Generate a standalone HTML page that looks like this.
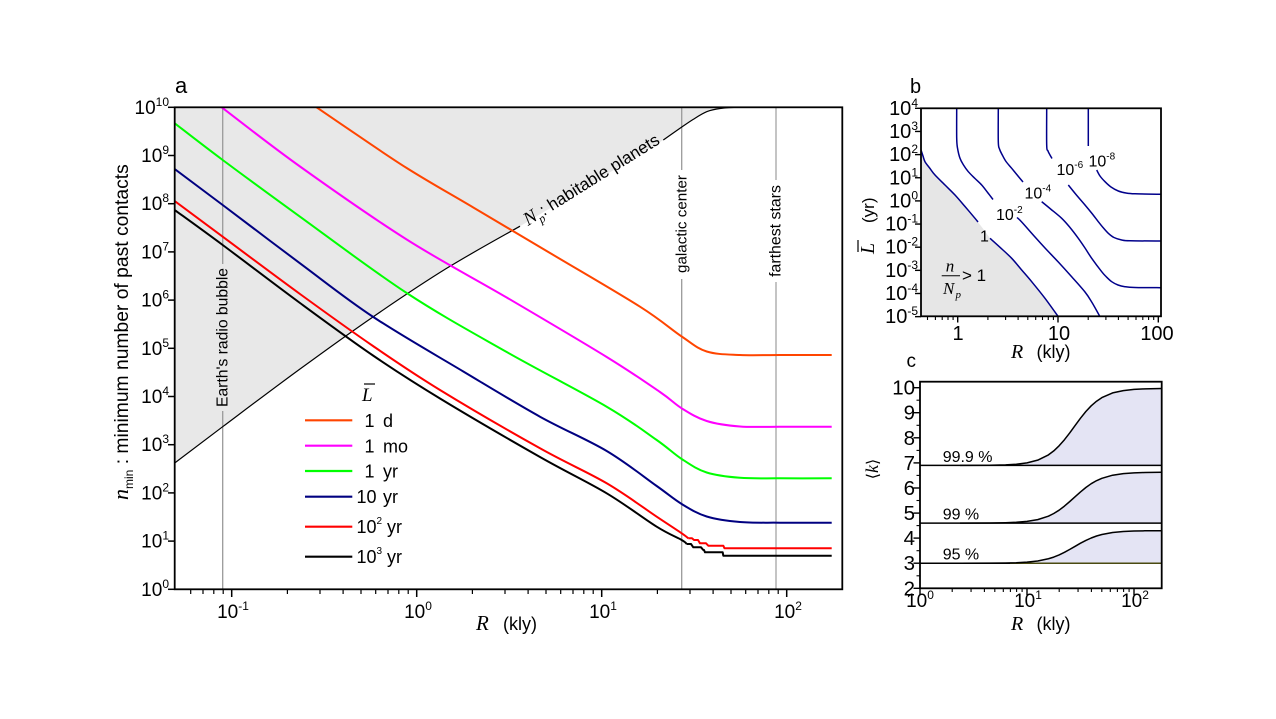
<!DOCTYPE html>
<html>
<head>
<meta charset="utf-8">
<style>
html,body{margin:0;padding:0;background:#fff;}
svg{display:block;}
text{fill:#000;}
.serif{font-family:"Liberation Serif","DejaVu Serif",serif;font-style:italic;}
</style>
</head>
<body>
<svg xmlns="http://www.w3.org/2000/svg" width="1276" height="719" viewBox="0 0 1276 719" font-family="Liberation Sans, Arial, sans-serif">
<defs>
<clipPath id="ca"><rect x="174.7" y="107.3" width="667.6" height="482"/></clipPath>
<clipPath id="cb"><rect x="921" y="108.3" width="240" height="208"/></clipPath>
<clipPath id="cc"><rect x="920" y="381.7" width="241.7" height="206.6"/></clipPath>
</defs>
<rect width="1276" height="719" fill="#fff"/>

<!-- ================= PANEL A ================= -->
<g clip-path="url(#ca)">
<path d="M174.7,107.3 L174.7,463 L222.7,426.7 L260,398.5 L300,369 L340,340.5 L373.3,316.7 L406.7,293.5 L446.7,268.3 L480,248.7 L510,231.7 L520,226.2 L560,202.2 L600,178.2 L630,160.2 L663.3,140 L680,128.3 L693,119.5 L706.7,111.7 L720,108.5 L740,107.3 Z" fill="#e8e8e8"/>
<g stroke="#9a9a9a" stroke-width="1.3">
<line x1="222.7" y1="107.3" x2="222.7" y2="264"/>
<line x1="222.7" y1="411" x2="222.7" y2="589.3"/>
<line x1="681.7" y1="107.3" x2="681.7" y2="170"/>
<line x1="681.7" y1="279" x2="681.7" y2="589.3"/>
</g>
<g stroke="#b0b0b0" stroke-width="1.5">
<line x1="776" y1="107.3" x2="776" y2="180"/>
<line x1="776" y1="282" x2="776" y2="589.3"/>
</g>
<g fill="none" stroke="#000" stroke-width="1.2">
<polyline class="sm" points="174.7,463 222.7,426.7 300,369 373.3,316.7 446.7,268.3 520,226.2"/>
<polyline class="sm" points="663.3,140 680,128.3 693,119.5 706.7,111.7 720,108.5 740,107.3 790,107.3 842,107.3"/>
</g>
<g fill="none" stroke-width="2" stroke-linejoin="round">
<polyline class="sm" stroke="#ff4500" points="300,96 340,123.3 406.7,168 473.3,207.5 550,253 640,306.7 681.7,336.5 706.7,351.5 740,355 780,355 831.7,355"/>
<polyline class="sm" stroke="#ff00ff" points="210,98 221.7,107.3 300,166.5 406.7,239.5 506.7,297.5 606.7,357 660,392 681.7,408.3 706.7,421 740,426.5 780,426.7 831.7,426.7"/>
<polyline class="sm" stroke="#00ff00" points="174.7,123.3 222.7,160 300,216.7 406.7,293 506.7,352 606.7,406.7 656.7,440 681.7,459 706.7,472.5 740,477.8 780,478.3 831.7,478.3"/>
<polyline class="sm" stroke="#000080" points="174.7,169 222.7,205 300,263.3 373.3,317 463.3,371.5 540,416.7 606.7,451 656.7,486 681.7,504 706.7,516.5 740,522 780,522.7 831.7,522.7"/>
<polyline class="sm" stroke="#ff0000" points="174.7,201 222.7,236.7 300,294 373,346 440,390 540,448.3 606.7,483.3 656.7,516.7 681.7,533.3 688.3,538.3"/>
<polyline stroke="#ff0000" points="688.3,538.3 692,538.3 694,540 698,540 700,543.3 706,543.3 708.3,545.7 723.3,545.7 724.5,548.3 831.7,548.3"/>
<polyline class="sm" stroke="#000000" points="174.7,210 222.7,245 300,303 373,355.5 440,398.5 540,457 606.7,493.3 656.7,526.7 681.7,540 686.7,544"/>
<polyline stroke="#000000" points="686.7,544 691,544 693.3,547.3 701,547.3 703.3,550 704,550 705,552.3 722.7,552.3 723.3,555.7 831.7,555.7"/>
</g>
</g>
<rect x="174.7" y="107.3" width="667.6" height="482" fill="none" stroke="#000" stroke-width="1.8"/>
<g stroke="#000" stroke-width="1.5">
<line x1="168" y1="107.3" x2="174.7" y2="107.3"/>
<line x1="168" y1="155.5" x2="174.7" y2="155.5"/>
<line x1="168" y1="203.7" x2="174.7" y2="203.7"/>
<line x1="168" y1="251.9" x2="174.7" y2="251.9"/>
<line x1="168" y1="300.1" x2="174.7" y2="300.1"/>
<line x1="168" y1="348.3" x2="174.7" y2="348.3"/>
<line x1="168" y1="396.5" x2="174.7" y2="396.5"/>
<line x1="168" y1="444.7" x2="174.7" y2="444.7"/>
<line x1="168" y1="492.9" x2="174.7" y2="492.9"/>
<line x1="168" y1="541.1" x2="174.7" y2="541.1"/>
<line x1="168" y1="589.3" x2="174.7" y2="589.3"/>
<line x1="231.7" y1="589.3" x2="231.7" y2="597"/>
<line x1="416.7" y1="589.3" x2="416.7" y2="597"/>
<line x1="601.7" y1="589.3" x2="601.7" y2="597"/>
<line x1="786.7" y1="589.3" x2="786.7" y2="597"/>
</g>
<g stroke="#000" stroke-width="1.2">
<line x1="190.7" y1="589.3" x2="190.7" y2="594"/>
<line x1="203" y1="589.3" x2="203" y2="594"/>
<line x1="213.8" y1="589.3" x2="213.8" y2="594"/>
<line x1="223.2" y1="589.3" x2="223.2" y2="594"/>
<line x1="287.4" y1="589.3" x2="287.4" y2="594"/>
<line x1="320" y1="589.3" x2="320" y2="594"/>
<line x1="343.1" y1="589.3" x2="343.1" y2="594"/>
<line x1="361" y1="589.3" x2="361" y2="594"/>
<line x1="375.7" y1="589.3" x2="375.7" y2="594"/>
<line x1="388" y1="589.3" x2="388" y2="594"/>
<line x1="398.8" y1="589.3" x2="398.8" y2="594"/>
<line x1="408.2" y1="589.3" x2="408.2" y2="594"/>
<line x1="472.4" y1="589.3" x2="472.4" y2="594"/>
<line x1="505" y1="589.3" x2="505" y2="594"/>
<line x1="528.1" y1="589.3" x2="528.1" y2="594"/>
<line x1="546" y1="589.3" x2="546" y2="594"/>
<line x1="560.7" y1="589.3" x2="560.7" y2="594"/>
<line x1="573" y1="589.3" x2="573" y2="594"/>
<line x1="583.8" y1="589.3" x2="583.8" y2="594"/>
<line x1="593.2" y1="589.3" x2="593.2" y2="594"/>
<line x1="657.4" y1="589.3" x2="657.4" y2="594"/>
<line x1="690" y1="589.3" x2="690" y2="594"/>
<line x1="713.1" y1="589.3" x2="713.1" y2="594"/>
<line x1="731" y1="589.3" x2="731" y2="594"/>
<line x1="745.7" y1="589.3" x2="745.7" y2="594"/>
<line x1="758" y1="589.3" x2="758" y2="594"/>
<line x1="768.8" y1="589.3" x2="768.8" y2="594"/>
<line x1="778.2" y1="589.3" x2="778.2" y2="594"/>
</g>
<g font-size="19" text-anchor="end">
<text x="169" y="113.8">10<tspan font-size="12" dy="-8">10</tspan></text>
<text x="169" y="162">10<tspan font-size="12" dy="-8">9</tspan></text>
<text x="169" y="210.2">10<tspan font-size="12" dy="-8">8</tspan></text>
<text x="169" y="258.4">10<tspan font-size="12" dy="-8">7</tspan></text>
<text x="169" y="306.6">10<tspan font-size="12" dy="-8">6</tspan></text>
<text x="169" y="354.8">10<tspan font-size="12" dy="-8">5</tspan></text>
<text x="169" y="403">10<tspan font-size="12" dy="-8">4</tspan></text>
<text x="169" y="451.2">10<tspan font-size="12" dy="-8">3</tspan></text>
<text x="169" y="499.4">10<tspan font-size="12" dy="-8">2</tspan></text>
<text x="169" y="547.6">10<tspan font-size="12" dy="-8">1</tspan></text>
<text x="169" y="595.8">10<tspan font-size="12" dy="-8">0</tspan></text>
</g>
<g font-size="19" text-anchor="middle">
<text x="233" y="618">10<tspan font-size="12" dy="-8">-1</tspan></text>
<text x="418" y="618">10<tspan font-size="12" dy="-8">0</tspan></text>
<text x="603" y="618">10<tspan font-size="12" dy="-8">1</tspan></text>
<text x="788" y="618">10<tspan font-size="12" dy="-8">2</tspan></text>
</g>
<text x="476" y="630" class="serif" font-size="21">R</text>
<text x="503" y="630" font-size="18">(kly)</text>
<text transform="translate(128,500) rotate(-90)" font-size="19.3"><tspan class="serif" font-size="22">n</tspan><tspan font-size="12" dy="5">min</tspan><tspan dy="-5"> : minimum number of past contacts</tspan></text>
<text x="175" y="93" font-size="22">a</text>
<text transform="translate(227.5,337.5) rotate(-90)" font-size="15.7" text-anchor="middle">Earth's radio bubble</text>
<text transform="translate(686.3,224) rotate(-90)" font-size="15.2" text-anchor="middle">galactic center</text>
<text transform="translate(780.5,231) rotate(-90)" font-size="15.9" text-anchor="middle">farthest stars</text>
<text transform="translate(528,226) rotate(-32)" font-size="17"><tspan class="serif" font-size="19">N</tspan><tspan font-size="12" dy="5" class="serif">p</tspan><tspan dy="-5">: habitable planets</tspan></text>
<!-- legend -->
<text x="362" y="401" class="serif" font-size="19">L</text>
<line x1="364" y1="384" x2="375" y2="384" stroke="#000" stroke-width="1.2"/>
<g stroke-width="2.2">
<line x1="305" y1="420.3" x2="352.3" y2="420.3" stroke="#ff4500"/>
<line x1="305" y1="445.7" x2="352.3" y2="445.7" stroke="#ff00ff"/>
<line x1="305" y1="471" x2="352.3" y2="471" stroke="#00ff00"/>
<line x1="305" y1="496.7" x2="352.3" y2="496.7" stroke="#000080"/>
<line x1="305" y1="526.7" x2="352.3" y2="526.7" stroke="#ff0000"/>
<line x1="305" y1="556.7" x2="352.3" y2="556.7" stroke="#000000"/>
</g>
<g font-size="18">
<text x="364.5" y="427">1</text><text x="383" y="427">d</text>
<text x="364.5" y="452.5">1</text><text x="383" y="452.5">mo</text>
<text x="364.5" y="477.5">1</text><text x="383" y="477.5">yr</text>
<text x="356.5" y="503">10</text><text x="383" y="503">yr</text>
<text x="356.5" y="533">10<tspan font-size="10" dy="-9">2</tspan></text><text x="387" y="533">yr</text>
<text x="356.5" y="563">10<tspan font-size="10" dy="-9">3</tspan></text><text x="387" y="563">yr</text>
</g>

<!-- ================= PANEL B ================= -->
<g clip-path="url(#cb)">
<path d="M921,151 L923,156 L925,161.7 L930,168.5 L935,175 L945,185 L955,195 L965,206.5 L975,218.3 L982.5,228 L990,238.3 L1000,247.3 L1011.7,258.3 L1021.7,270 L1031.7,281.7 L1045,298.3 L1058.3,316.7 L921,316.7 Z" fill="#e6e6e6"/>
<g fill="none" stroke="#00008b" stroke-width="1.5" stroke-linejoin="round">
<polyline class="sm" points="921,150 923,156 925,161.7 930,168.5 935,175 945,185 955,195 965,206.5 975,218.3 978,222"/>
<polyline class="sm" points="990,238.3 1000,247.3 1011.7,258.3 1021.7,270 1031.7,281.7 1045,298.3 1058.3,316.7"/>
<polyline class="sm" points="956.7,108 956.7,138 957.5,148 960,158.3 963.5,165 968.3,171.7 975,178.5 981.7,185 988,193 993,199.5"/>
<polyline class="sm" points="1017,217.5 1021.7,222 1035,237 1045,248 1058.3,262 1071,276 1085,292 1092,302.5 1100,316.7"/>
<polyline class="sm" points="998.3,108 998.3,141.7 999.5,149 1002.3,155 1006,161.5 1011.7,168.3 1018,176 1023,182"/>
<polyline class="sm" points="1041.7,201.7 1050,208.5 1061.7,218.3 1070,227.5 1078.3,238.3 1085,248 1091.7,258.3 1101.7,271.7 1106,276.5 1111.7,281.7 1118,285 1125,286.7 1135,287.5 1162,287.7"/>
<polyline class="sm" points="1046.7,108 1046.7,145 1048,151 1050,155 1052,158.5"/>
<polyline class="sm" points="1068.3,185 1076,194.5 1085,205 1092,213.5 1098.3,221.7 1103,227.5 1108.3,233.3 1114,237.5 1121.7,240 1130,240.8 1162,241"/>
<polyline points="1088.3,108 1088.3,146"/>
<polyline class="sm" points="1096.7,170 1100,176 1105,181.7 1111,187 1118.3,191 1126,193 1135,193.8 1162,194.3"/>
</g>
</g>
<rect x="921" y="108.3" width="240" height="208" fill="none" stroke="#000" stroke-width="1.8"/>
<g font-size="16">
<text x="980" y="241.5">1</text>
<text x="996" y="220">10<tspan font-size="10" dy="-7">-2</tspan></text>
<text x="1024.5" y="198.5">10<tspan font-size="10" dy="-7">-4</tspan></text>
<text x="1056.5" y="175">10<tspan font-size="10" dy="-7">-6</tspan></text>
<text x="1088.5" y="166.5">10<tspan font-size="10" dy="-7">-8</tspan></text>
</g>
<text x="950" y="271.5" class="serif" font-size="17" text-anchor="middle">n</text>
<line x1="941.7" y1="275.7" x2="960" y2="275.7" stroke="#000" stroke-width="1"/>
<text x="943" y="294" class="serif" font-size="17">N</text>
<text x="955.5" y="298" class="serif" font-size="11">p</text>
<text x="962" y="281" font-size="17">&gt; 1</text>
<g stroke="#000" stroke-width="1.4">
<line x1="915" y1="108.3" x2="921" y2="108.3"/>
<line x1="915" y1="131.45" x2="921" y2="131.45"/>
<line x1="915" y1="154.6" x2="921" y2="154.6"/>
<line x1="915" y1="177.75" x2="921" y2="177.75"/>
<line x1="915" y1="200.9" x2="921" y2="200.9"/>
<line x1="915" y1="224.05" x2="921" y2="224.05"/>
<line x1="915" y1="247.2" x2="921" y2="247.2"/>
<line x1="915" y1="270.35" x2="921" y2="270.35"/>
<line x1="915" y1="293.5" x2="921" y2="293.5"/>
<line x1="915" y1="316.65" x2="921" y2="316.65"/>
<line x1="957.7" y1="316.3" x2="957.7" y2="322.5"/>
<line x1="1058" y1="316.3" x2="1058" y2="322.5"/>
<line x1="1158.3" y1="316.3" x2="1158.3" y2="322.5"/>
</g>
<g stroke="#000" stroke-width="1.1">
<line x1="927.5" y1="316.3" x2="927.5" y2="320"/>
<line x1="935.4" y1="316.3" x2="935.4" y2="320"/>
<line x1="942.2" y1="316.3" x2="942.2" y2="320"/>
<line x1="948" y1="316.3" x2="948" y2="320"/>
<line x1="953.1" y1="316.3" x2="953.1" y2="320"/>
<line x1="987.9" y1="316.3" x2="987.9" y2="320"/>
<line x1="1005.6" y1="316.3" x2="1005.6" y2="320"/>
<line x1="1018.1" y1="316.3" x2="1018.1" y2="320"/>
<line x1="1027.8" y1="316.3" x2="1027.8" y2="320"/>
<line x1="1035.7" y1="316.3" x2="1035.7" y2="320"/>
<line x1="1042.5" y1="316.3" x2="1042.5" y2="320"/>
<line x1="1048.3" y1="316.3" x2="1048.3" y2="320"/>
<line x1="1053.4" y1="316.3" x2="1053.4" y2="320"/>
<line x1="1088.2" y1="316.3" x2="1088.2" y2="320"/>
<line x1="1105.9" y1="316.3" x2="1105.9" y2="320"/>
<line x1="1118.4" y1="316.3" x2="1118.4" y2="320"/>
<line x1="1128.1" y1="316.3" x2="1128.1" y2="320"/>
<line x1="1136" y1="316.3" x2="1136" y2="320"/>
<line x1="1142.8" y1="316.3" x2="1142.8" y2="320"/>
<line x1="1148.6" y1="316.3" x2="1148.6" y2="320"/>
<line x1="1153.7" y1="316.3" x2="1153.7" y2="320"/>
</g>
<g font-size="20" text-anchor="end">
<text x="918" y="114.8">10<tspan font-size="12" dy="-8">4</tspan></text>
<text x="918" y="137.95">10<tspan font-size="12" dy="-8">3</tspan></text>
<text x="918" y="161.1">10<tspan font-size="12" dy="-8">2</tspan></text>
<text x="918" y="184.25">10<tspan font-size="12" dy="-8">1</tspan></text>
<text x="918" y="207.4">10<tspan font-size="12" dy="-8">0</tspan></text>
<text x="918" y="230.55">10<tspan font-size="12" dy="-8">-1</tspan></text>
<text x="918" y="253.7">10<tspan font-size="12" dy="-8">-2</tspan></text>
<text x="918" y="276.85">10<tspan font-size="12" dy="-8">-3</tspan></text>
<text x="918" y="300">10<tspan font-size="12" dy="-8">-4</tspan></text>
<text x="918" y="323.15">10<tspan font-size="12" dy="-8">-5</tspan></text>
</g>
<g font-size="20" text-anchor="middle">
<text x="958" y="340">1</text>
<text x="1059" y="340">10</text>
<text x="1157" y="340">100</text>
</g>
<text x="1011" y="358" class="serif" font-size="20">R</text>
<text x="1036.5" y="358" font-size="18">(kly)</text>
<g transform="translate(874,254) rotate(-90)">
<text x="0" y="0" class="serif" font-size="20">L</text>
<line x1="2" y1="-16" x2="14" y2="-16" stroke="#000" stroke-width="1.2"/>
<text x="31" y="0" font-size="17">(yr)</text>
</g>
<text x="910" y="93" font-size="20">b</text>

<!-- ================= PANEL C ================= -->
<g clip-path="url(#cc)">
<polygon fill="#e4e4f4" points="990,465.4 1005.6,464.85 1016.3,464.2 1027,462.9 1037.7,460.15 1048.4,454.9 1053.75,450.9 1059.1,445.8 1064.45,439.7 1069.8,432.8 1075.15,425.4 1080.5,418.2 1085.85,411.5 1091.2,405.8 1096.55,401.2 1101.9,397.6 1112.6,392.9 1123.3,390.6 1134,389.4 1144.7,388.9 1161.7,388.55 1161.7,465.4"/>
<polygon fill="#e4e4f4" points="990,523.1 1005.6,522.7 1016.3,522.3 1027,521.4 1037.7,519.6 1048.4,516.2 1053.75,513.5 1059.1,510.2 1064.45,506.1 1069.8,501.5 1075.15,496.7 1080.5,491.9 1085.85,487.5 1091.2,483.7 1096.55,480.65 1101.9,478.3 1112.6,475.2 1123.3,473.6 1134,472.9 1144.7,472.5 1161.7,472.3 1161.7,523.1"/>
<polygon fill="#e4e4f4" points="990,563.2 1005.6,563 1016.3,562.7 1027,562.1 1037.7,561 1048.4,558.75 1053.75,557.1 1059.1,554.9 1064.45,552.3 1069.8,549.4 1075.15,546.3 1080.5,543.2 1085.85,540.4 1091.2,538 1096.55,536 1101.9,534.5 1112.6,532.5 1123.3,531.5 1134,531 1144.7,530.8 1161.7,530.7 1161.7,563.2"/>
<g stroke-width="1.5" fill="none">
<line x1="920" y1="465.4" x2="1162" y2="465.4" stroke="#000"/>
<line x1="920" y1="523.1" x2="1162" y2="523.1" stroke="#000"/>
<line x1="920" y1="563.2" x2="1010" y2="563.2" stroke="#000"/>
<line x1="1010" y1="563.2" x2="1162" y2="563.2" stroke="#4a4a10"/>
</g>
<g fill="none" stroke="#000" stroke-width="1.5" stroke-linejoin="round">
<polyline points="960,465.4 990,465.3 1005.6,464.85 1016.3,464.2 1027,462.9 1037.7,460.15 1048.4,454.9 1053.75,450.9 1059.1,445.8 1064.45,439.7 1069.8,432.8 1075.15,425.4 1080.5,418.2 1085.85,411.5 1091.2,405.8 1096.55,401.2 1101.9,397.6 1112.6,392.9 1123.3,390.6 1134,389.4 1144.7,388.9 1162,388.55"/>
<polyline points="960,523.1 990,523 1005.6,522.7 1016.3,522.3 1027,521.4 1037.7,519.6 1048.4,516.2 1053.75,513.5 1059.1,510.2 1064.45,506.1 1069.8,501.5 1075.15,496.7 1080.5,491.9 1085.85,487.5 1091.2,483.7 1096.55,480.65 1101.9,478.3 1112.6,475.2 1123.3,473.6 1134,472.9 1144.7,472.5 1162,472.3"/>
<polyline points="960,563.2 990,563.1 1005.6,563 1016.3,562.7 1027,562.1 1037.7,561 1048.4,558.75 1053.75,557.1 1059.1,554.9 1064.45,552.3 1069.8,549.4 1075.15,546.3 1080.5,543.2 1085.85,540.4 1091.2,538 1096.55,536 1101.9,534.5 1112.6,532.5 1123.3,531.5 1134,531 1144.7,530.8 1162,530.7"/>
</g>
</g>
<rect x="920" y="381.7" width="241.7" height="206.6" fill="none" stroke="#000" stroke-width="1.8"/>
<g font-size="16">
<text x="942.7" y="462">99.9 %</text>
<text x="942.7" y="519.5">99 %</text>
<text x="942.7" y="559.5">95 %</text>
</g>
<g stroke="#000" stroke-width="1.4">
<line x1="913.5" y1="387.7" x2="920" y2="387.7"/>
<line x1="913.5" y1="412.7" x2="920" y2="412.7"/>
<line x1="913.5" y1="437.8" x2="920" y2="437.8"/>
<line x1="913.5" y1="462.9" x2="920" y2="462.9"/>
<line x1="913.5" y1="488" x2="920" y2="488"/>
<line x1="913.5" y1="513.1" x2="920" y2="513.1"/>
<line x1="913.5" y1="538.1" x2="920" y2="538.1"/>
<line x1="913.5" y1="563.2" x2="920" y2="563.2"/>
<line x1="913.5" y1="588.3" x2="920" y2="588.3"/>
<line x1="1027" y1="588.3" x2="1027" y2="595"/>
<line x1="1134" y1="588.3" x2="1134" y2="595"/>
<line x1="920" y1="588.3" x2="920" y2="595"/>
</g>
<g stroke="#000" stroke-width="1.1">
<line x1="916.5" y1="400.2" x2="920" y2="400.2"/>
<line x1="916.5" y1="425.3" x2="920" y2="425.3"/>
<line x1="916.5" y1="450.4" x2="920" y2="450.4"/>
<line x1="916.5" y1="475.4" x2="920" y2="475.4"/>
<line x1="916.5" y1="500.5" x2="920" y2="500.5"/>
<line x1="916.5" y1="525.6" x2="920" y2="525.6"/>
<line x1="916.5" y1="550.7" x2="920" y2="550.7"/>
<line x1="916.5" y1="575.8" x2="920" y2="575.8"/>
<line x1="952.2" y1="588.3" x2="952.2" y2="592"/>
<line x1="971.05" y1="588.3" x2="971.05" y2="592"/>
<line x1="984.4" y1="588.3" x2="984.4" y2="592"/>
<line x1="994.8" y1="588.3" x2="994.8" y2="592"/>
<line x1="1003.3" y1="588.3" x2="1003.3" y2="592"/>
<line x1="1010.4" y1="588.3" x2="1010.4" y2="592"/>
<line x1="1016.6" y1="588.3" x2="1016.6" y2="592"/>
<line x1="1022.1" y1="588.3" x2="1022.1" y2="592"/>
<line x1="1059.2" y1="588.3" x2="1059.2" y2="592"/>
<line x1="1078.05" y1="588.3" x2="1078.05" y2="592"/>
<line x1="1091.4" y1="588.3" x2="1091.4" y2="592"/>
<line x1="1101.8" y1="588.3" x2="1101.8" y2="592"/>
<line x1="1110.3" y1="588.3" x2="1110.3" y2="592"/>
<line x1="1117.4" y1="588.3" x2="1117.4" y2="592"/>
<line x1="1123.6" y1="588.3" x2="1123.6" y2="592"/>
<line x1="1129.1" y1="588.3" x2="1129.1" y2="592"/>
</g>
<g font-size="20.5" text-anchor="end">
<text x="915" y="394.7">10</text>
<text x="915" y="419.7">9</text>
<text x="915" y="444.8">8</text>
<text x="915" y="469.9">7</text>
<text x="915" y="495">6</text>
<text x="915" y="520.1">5</text>
<text x="915" y="545.1">4</text>
<text x="915" y="570.2">3</text>
<text x="915" y="595.3">2</text>
</g>
<g font-size="19" text-anchor="middle">
<text x="920" y="607">10<tspan font-size="12" dy="-8">0</tspan></text>
<text x="1028" y="607">10<tspan font-size="12" dy="-8">1</tspan></text>
<text x="1135" y="607">10<tspan font-size="12" dy="-8">2</tspan></text>
</g>
<text x="1011" y="630" class="serif" font-size="20">R</text>
<text x="1036.5" y="630" font-size="18">(kly)</text>
<text transform="translate(878,469) rotate(-90)" font-size="18" text-anchor="middle"><tspan font-family="DejaVu Sans, sans-serif" font-size="16">⟨</tspan><tspan class="serif">k</tspan><tspan font-family="DejaVu Sans, sans-serif" font-size="16">⟩</tspan></text>
<text x="906.5" y="367" font-size="19">c</text>
</svg>
<script>
(function(){
var ns='http://www.w3.org/2000/svg';
var list=document.querySelectorAll('polyline.sm');
for(var k=0;k<list.length;k++){
 var pl=list[k];
 var raw=pl.getAttribute('points').trim().split(/\s+/);
 var p=[];
 for(var i=0;i<raw.length;i++){var a=raw[i].split(',');p.push([parseFloat(a[0]),parseFloat(a[1])]);}
 if(p.length<3)continue;
 var d='M'+p[0][0]+','+p[0][1];
 for(var i=0;i<p.length-1;i++){
  var p0=p[i>0?i-1:i],p1=p[i],p2=p[i+1],p3=p[i+2<p.length?i+2:i+1];
  var c1x=p1[0]+(p2[0]-p0[0])/6,c1y=p1[1]+(p2[1]-p0[1])/6;
  var c2x=p2[0]-(p3[0]-p1[0])/6,c2y=p2[1]-(p3[1]-p1[1])/6;
  d+=' C'+c1x.toFixed(2)+','+c1y.toFixed(2)+' '+c2x.toFixed(2)+','+c2y.toFixed(2)+' '+p2[0]+','+p2[1];
 }
 var path=document.createElementNS(ns,'path');
 path.setAttribute('d',d);
 for(var j=0;j<pl.attributes.length;j++){var at=pl.attributes[j];if(at.name!=='points'&&at.name!=='class')path.setAttribute(at.name,at.value);}
 pl.parentNode.replaceChild(path,pl);
}
})();
</script>
</body>
</html>
